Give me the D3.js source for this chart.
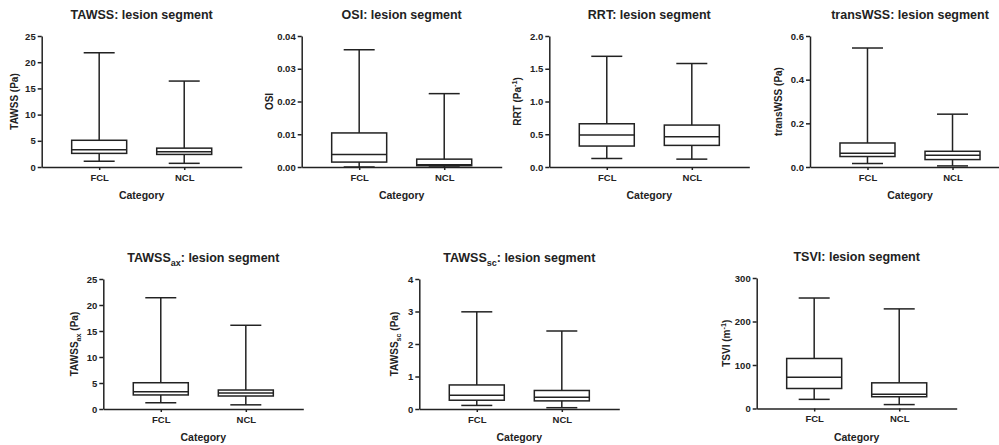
<!DOCTYPE html>
<html>
<head>
<meta charset="utf-8">
<script src="https://cdn.jsdelivr.net/npm/d3@7"></script>
<style>
  body { margin: 0; background: #fff; }
  svg text { font-family: "Liberation Sans", Arial, sans-serif; font-weight: bold; fill: #222; }
</style>
</head>
<body>
<svg id="chart" width="999" height="445"></svg>
<script>
// groups on the x axis
const categories = ["FCL", "NCL"];

// box stats per group: [min, q1, median, q3, max]
const tawssFCL = [1.1, 2.6, 3.3, 5.1, 21.8];
const tawssNCL = [0.7, 2.4, 2.9, 3.6, 16.4];
const osiFCL = [0.0, 0.0015, 0.0038, 0.0104, 0.0358];
const osiNCL = [0.0, 0.0004, 0.0007, 0.0024, 0.0224];
const rrtFCL = [0.13, 0.32, 0.49, 0.66, 1.69];
const rrtNCL = [0.12, 0.33, 0.46, 0.64, 1.58];
const transFCL = [0.016, 0.048, 0.063, 0.110, 0.545];
const transNCL = [0.005, 0.034, 0.054, 0.072, 0.242];
const axFCL = [1.2, 2.7, 3.3, 5.05, 21.4];
const axNCL = [0.8, 2.5, 3.1, 3.65, 16.1];
const scFCL = [0.11, 0.27, 0.42, 0.74, 2.99];
const scNCL = [0.04, 0.25, 0.36, 0.57, 2.40];
const tsviFCL = [21, 46, 72, 115, 254];
const tsviNCL = [9, 27, 33, 59, 229];

// y tick values
const tawssTicks = [0, 5, 10, 15, 20, 25];
const osiTicks = [0, 0.01, 0.02, 0.03, 0.04];
const rrtTicks = [0, 0.5, 1.0, 1.5, 2.0];
const transTicks = [0, 0.2, 0.4, 0.6];
const axTicks = [0, 5, 10, 15, 20, 25];
const scTicks = [0, 1, 2, 3, 4];
const tsviTicks = [0, 100, 200, 300];

const ink = "#222";
const svg = d3.select("#chart");

// layout of each small chart; text parts are [text, "", "sub" or "sup"]
const panels = [
  { title: [["TAWSS"], [": lesion segment"]], ylab: [["TAWSS (Pa)"]],
    stats: [tawssFCL, tawssNCL], ticks: tawssTicks, fmt: d3.format("d"),
    ax: 41.7, top: 36, bottom: 167, labOff: 24 },
  { title: [["OSI: lesion segment"]], ylab: [["OSI"]],
    stats: [osiFCL, osiNCL], ticks: osiTicks, fmt: d3.format(".2f"),
    ax: 301.7, top: 36, bottom: 167, labOff: 29 },
  { title: [["RRT: lesion segment"]], ylab: [["RRT (Pa"], ["-1", "sup"], [")"]],
    stats: [rrtFCL, rrtNCL], ticks: rrtTicks, fmt: d3.format(".1f"),
    ax: 549.3, top: 36, bottom: 167, labOff: 28 },
  { title: [["transWSS: lesion segment"]], ylab: [["transWSS (Pa)"]],
    stats: [transFCL, transNCL], ticks: transTicks, fmt: d3.format(".1f"),
    ax: 810, top: 36, bottom: 167, labOff: 28 },
  { title: [["TAWSS"], ["ax", "sub"], [": lesion segment"]], ylab: [["TAWSS"], ["ax", "sub"], [" (Pa)"]],
    stats: [axFCL, axNCL], ticks: axTicks, fmt: d3.format("d"),
    ax: 103.3, top: 279, bottom: 409, labOff: 25 },
  { title: [["TAWSS"], ["sc", "sub"], [": lesion segment"]], ylab: [["TAWSS"], ["sc", "sub"], [" (Pa)"]],
    stats: [scFCL, scNCL], ticks: scTicks, fmt: d3.format("d"),
    ax: 419.3, top: 279, bottom: 409, labOff: 21 },
  { title: [["TSVI: lesion segment"]], ylab: [["TSVI (m"], ["-1", "sup"], [")"]],
    stats: [tsviFCL, tsviNCL], ticks: tsviTicks, fmt: d3.format("d"),
    ax: 756.7, top: 278, bottom: 408.5, labOff: 27 }
];

// write text made of plain, subscript and superscript parts
function richText(sel, parts, size) {
  let shift = 0;
  parts.forEach(([t, kind]) => {
    const sp = sel.append("tspan").text(t);
    if (kind === "sub") {
      sp.attr("font-size", size * 0.72).attr("dy", size * 0.28);
      shift = size * 0.28;
    } else if (kind === "sup") {
      sp.attr("font-size", size * 0.72).attr("dy", -size * 0.4);
      shift = -size * 0.4;
    } else {
      sp.attr("font-size", size);
      if (shift !== 0) { sp.attr("dy", -shift); shift = 0; }
    }
  });
}

function drawPanel(p) {
  const w = 200;
  const g = svg.append("g");

  const y = d3.scaleLinear()
    .domain([0, d3.max(p.ticks)])
    .range([p.bottom, p.top]);

  const x = d3.scalePoint()
    .domain(categories)
    .range([p.ax, p.ax + w])
    .padding(0.676);

  // y axis
  const yAxis = g.append("g")
    .attr("transform", `translate(${p.ax},0)`)
    .call(d3.axisLeft(y).tickValues(p.ticks).tickFormat(p.fmt)
      .tickSize(4).tickSizeOuter(0).tickPadding(2));

  // x axis
  const xAxis = g.append("g")
    .attr("transform", `translate(0,${p.bottom})`)
    .call(d3.axisBottom(x).tickSize(3).tickSizeOuter(0).tickPadding(4));

  [yAxis, xAxis].forEach(a => {
    a.attr("font-family", null).attr("font-size", null);
    a.selectAll("path, line").attr("stroke", ink).attr("stroke-width", 1.5);
  });
  yAxis.selectAll("text").attr("font-size", 9.5).attr("fill", ink);
  xAxis.selectAll("text").attr("font-size", 9.5).attr("fill", ink);

  // boxes
  const boxW = 55, capW = 31;
  const grp = g.selectAll(".grp")
    .data(categories.map((c, i) => ({ c, s: p.stats[i] })))
    .enter().append("g").attr("class", "grp");

  grp.append("line")
    .attr("x1", d => x(d.c)).attr("x2", d => x(d.c))
    .attr("y1", d => y(d.s[4])).attr("y2", d => y(d.s[0]))
    .attr("stroke", ink).attr("stroke-width", 1.5);

  [0, 4].forEach(k => {
    grp.append("line")
      .attr("x1", d => x(d.c) - capW / 2).attr("x2", d => x(d.c) + capW / 2)
      .attr("y1", d => y(d.s[k])).attr("y2", d => y(d.s[k]))
      .attr("stroke", ink).attr("stroke-width", 1.5);
  });

  grp.append("rect")
    .attr("x", d => x(d.c) - boxW / 2)
    .attr("width", boxW)
    .attr("y", d => y(d.s[3]))
    .attr("height", d => y(d.s[1]) - y(d.s[3]))
    .attr("fill", "#fff")
    .attr("stroke", ink).attr("stroke-width", 1.5);

  grp.append("line")
    .attr("x1", d => x(d.c) - boxW / 2).attr("x2", d => x(d.c) + boxW / 2)
    .attr("y1", d => y(d.s[2])).attr("y2", d => y(d.s[2]))
    .attr("stroke", ink).attr("stroke-width", 1.5);

  // title
  g.append("text")
    .attr("x", p.ax + w / 2).attr("y", p.top - 17)
    .attr("text-anchor", "middle")
    .call(s => richText(s, p.title, 12.5));

  // x axis title
  g.append("text")
    .attr("x", p.ax + w / 2).attr("y", p.bottom + 32)
    .attr("text-anchor", "middle").attr("font-size", 10.5)
    .text("Category");

  // y axis title
  g.append("text")
    .attr("transform", `translate(${p.ax - p.labOff},${(p.top + p.bottom) / 2}) rotate(-90)`)
    .attr("text-anchor", "middle")
    .call(s => richText(s, p.ylab, 10));
}

panels.forEach(drawPanel);
</script>
</body>
</html>
